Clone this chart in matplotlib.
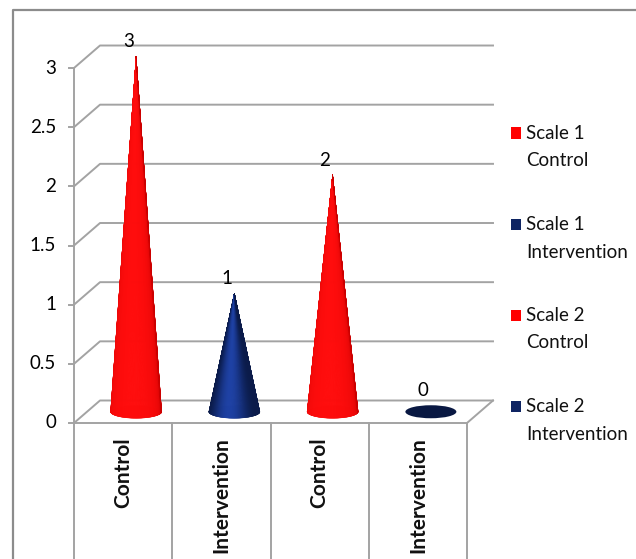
import numpy as np
import matplotlib.pyplot as plt
from matplotlib.patches import Ellipse, Rectangle
from matplotlib.collections import PolyCollection
from matplotlib.colors import to_rgb

# data
categories = ['Control', 'Intervention', 'Control', 'Intervention']
values = [3, 1, 2, 0]
series = ['Scale 1\nControl', 'Scale 1\nIntervention', 'Scale 2\nControl', 'Scale 2\nIntervention']
colors = ['#ff0000', '#0e2462', '#ff0000', '#0e2462']
yticks = [0, 0.5, 1, 1.5, 2, 2.5, 3]

plt.rcParams['font.family'] = ['Lato', 'DejaVu Sans']

W, H = 636, 559
fig = plt.figure(figsize=(W / 100, H / 100), dpi=100)
ax = fig.add_axes([0, 0, 1, 1])
ax.axis('off')

# pixel layout of the plot area (front origin, size of one category / one unit)
x0_px, y0_px = 74, 423
cat_px, unit_px = 98.25, 118.33
ax.set_xlim(-x0_px / cat_px, (W - x0_px) / cat_px)
ax.set_ylim((y0_px - H) / unit_px, y0_px / unit_px)
ybot = (y0_px - H) / unit_px

dx = 26 / cat_px      # depth offset
dy = 22.5 / unit_px
n = len(categories)
grid = '#a3a3a3'
lw = 1.4

# outer border (top + left)
bx, by = -61 / cat_px, 413 / unit_px
ax.plot([bx, bx, ax.get_xlim()[1]], [ybot, by, by], color='#8c8c8c', lw=1.6, solid_capstyle='butt')

# walls / gridlines
for v in yticks:
    ax.plot([0, dx, n + dx], [v, v + dy, v + dy], color=grid, lw=lw)
    ax.plot([-5 / cat_px, 0], [v, v], color=grid, lw=lw)
    ax.text(-18 / cat_px, v, '%g' % v, ha='right', va='center', fontsize=13.5, color='black')
ax.plot([0, 0], [ybot, max(yticks)], color=grid, lw=lw)
ax.plot([0, n, n + dx], [0, 0, dy], color=grid, lw=lw)
for i in range(1, n + 1):
    ax.plot([i, i], [ybot, 0], color=grid, lw=lw)

# category labels
for i, c in enumerate(categories):
    ax.text(i + 0.5, -14 / unit_px, c, rotation=90, ha='center', va='top',
            fontsize=15, fontweight='bold', color='#111111')

# cones
r = 25.5 / cat_px
b = 6.5 / unit_px
t = np.linspace(np.pi, 2 * np.pi, 181)
tm = 0.5 * (t[1:] + t[:-1])
for i, (v, c) in enumerate(zip(values, colors)):
    cx, cy = i + 0.5 + dx / 2, dy / 2
    base = np.asarray(to_rgb(c))
    if base[0] > 0.5:
        dark, light, p = base * 0.8, np.array([1.0, 0.05, 0.05]), 0.35
    else:
        dark, light, p = base * 0.75, np.clip(base * 1.6 + 0.03, 0, 1), 4
    w = np.clip(np.cos(tm - (1.5 * np.pi - 0.2)), 0, 1) ** p
    shades = dark + (light - dark) * w[:, None]
    ax.add_patch(Ellipse((cx, cy), 2 * r, 2 * b, facecolor=dark * 0.9 if v == 0 else dark,
                         edgecolor='none', zorder=3))
    if v > 0:
        px = cx + r * np.cos(t)
        py = cy + b * np.sin(t)
        polys = [[(cx, v + cy), (px[k], py[k]), (px[k + 1], py[k + 1])] for k in range(len(tm))]
        ax.add_collection(PolyCollection(polys, facecolors=shades, edgecolors=shades,
                                         linewidths=0.3, zorder=4))
    top = max(v + cy, cy + b)
    ax.text(i + 0.5 + dx * 0.2, top + 15 / unit_px, '%g' % v, ha='center', va='center',
            fontsize=13.5, color='black', zorder=5)

# legend
for k, (lab, c) in enumerate(zip(series, colors)):
    yc = 133 + 91 * k
    fig.add_artist(Rectangle((511 / W, 1 - (yc + 5.5) / H), 10 / W, 11 / H,
                             facecolor=c, edgecolor='none', transform=fig.transFigure))
    fig.text(526 / W, 1 - (yc - 8) / H, lab, ha='left', va='top', fontsize=13.5,
             linespacing=1.75, color='#111111')

fig.savefig('out.png', dpi=100)
